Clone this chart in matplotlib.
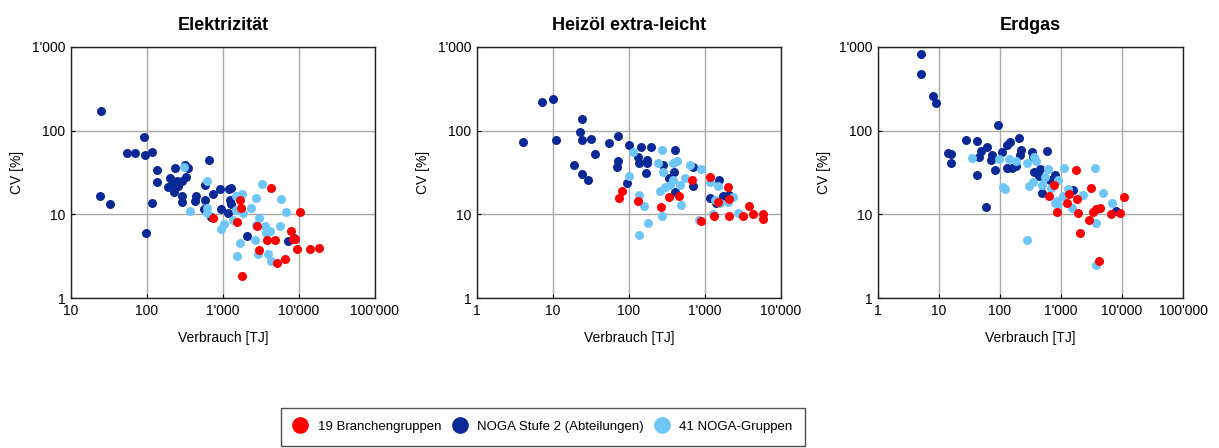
import numpy as np
import matplotlib.pyplot as plt
from matplotlib.ticker import FixedLocator, FuncFormatter, NullLocator

plt.rcParams['font.family'] = ['Liberation Sans', 'DejaVu Sans']

# --- data: (Verbrauch [TJ], CV [%]) per panel and series ---

# Elektrizitaet
el_dark_x = [24.8, 24, 32.9, 54.5, 69, 92, 94, 116, 98, 117, 134, 137, 233, 200, 192, 215, 245, 260, 228,
             285, 290, 321, 350, 325, 292, 225, 436, 432, 577, 560, 580, 652, 750, 908, 930, 1205, 1270,
             1230, 1170, 1290, 2100, 7190, 8600, 706]
el_dark_y = [171, 16.4, 13.3, 54, 54, 85, 51, 56, 6, 13.6, 34, 24.5, 35.6, 27, 21.5, 23, 25, 22, 20,
             16.5, 14, 39, 35.6, 28, 25, 18.7, 16.5, 14.3, 14.7, 11.7, 22.5, 44, 17.3, 20, 11.7, 20, 20.5,
             15, 10.4, 13.4, 5.5, 4.8, 5.2, 9.4]
el_light_x = [303, 614, 610, 615, 374, 955, 1025, 1370, 1535, 1500, 1470, 1800, 1850, 1700, 2370, 2755,
              2650, 2750, 2985, 2890, 3300, 3540, 3700, 4200, 3940, 4300, 5580, 5880, 6840]
el_light_y = [36.3, 25, 12, 10.5, 11, 6.7, 7.7, 8.6, 3.2, 16.4, 11.4, 17.3, 10.5, 4.6, 11.8, 15.6,
              4.9, 7.5, 9.1, 3.4, 23, 7.2, 6, 6.3, 3.4, 2.8, 7.2, 15.2, 10.6]
el_red_x = [750, 1535, 1660, 1740, 1800, 2790, 2980, 3770, 4850, 4240, 5150, 6500, 7800, 8300, 8900,
            10240, 9300, 13800, 18400]
el_red_y = [9, 8, 15, 11.8, 1.83, 7.2, 3.7, 4.9, 4.9, 20.6, 2.6, 2.9, 6.3, 5.1, 5.1, 10.6, 3.8, 3.8, 4.0]

# Heizoel extra-leicht
ho_dark_x = [4.0, 7.1, 10.1, 11, 18.9, 24.3, 22.8, 24.3, 24, 29, 32, 36, 54.5, 72.4, 70.6, 70, 93, 101,
             142, 132, 136, 193, 171, 175, 166, 283, 403, 392, 340, 403, 702, 702, 1545, 1165, 1750,
             2100, 1400]
ho_dark_y = [73, 223, 238, 77, 38.6, 138, 95.5, 77, 30, 25.5, 79, 52, 72, 86, 43, 37, 24, 68,
             64.5, 49, 41, 64.5, 45, 41, 31, 39, 58, 32.5, 27, 18.3, 37, 22, 26, 15.7, 16.7,
             17, 13.7]
ho_light_x = [114, 99, 134, 156, 134, 180, 269, 243, 283, 255, 298, 269, 350, 380, 432, 374, 465, 545,
              480, 635, 877, 840, 1165, 1497, 1350, 1580, 1290, 2030, 2300, 2750]
ho_light_y = [56, 29, 17.1, 12.6, 5.7, 7.9, 58, 41, 32.5, 18.8, 21.5, 9.5, 22.4, 41, 43.5, 25.6, 22.4, 27,
              13, 38.4, 35, 8.5, 24.6, 21.6, 15, 13.7, 10, 14.2, 16.3, 10.4]
ho_red_x = [80, 74, 130, 264, 335, 459, 668, 885, 1165, 1312, 1497, 1987, 2090, 2090, 3130, 3800, 4230,
            5860, 5860]
ho_red_y = [19.1, 15.7, 14.3, 12.2, 16.3, 16.5, 25.9, 8.3, 28, 9.6, 14.0, 21.3, 15.3, 9.6, 9.5, 12.6, 10.2,
            10.2, 8.9]

# Erdgas
eg_dark_x = [5.0, 5.0, 8.0, 9.0, 13.8, 16, 16, 27.6, 42, 48, 45.6, 41.7, 60, 71, 75, 83.6, 58, 91, 106,
             128, 145, 131, 155, 180, 207, 217, 212, 330, 583, 343, 453, 435, 494, 660, 800, 1560, 8030,
             360]
eg_dark_y = [833, 473, 261, 213, 54, 52.5, 41, 77, 75, 56.5, 49, 29.6, 64, 45, 51, 33.5, 12.2, 115.6, 56,
             68, 74, 35.6, 35.6, 38, 82, 59, 51, 56, 57, 49, 34.6, 29, 18, 25.9, 29.6, 19.7, 10.9,
             32]
eg_light_x = [35, 97, 113, 121, 142, 186, 273, 301, 352, 360, 390, 482, 547, 620, 678, 906, 850, 906,
              1123, 1090, 1324, 1500, 2276, 3630, 3800, 3760, 4790, 6820, 281, 800]
eg_light_y = [47, 46, 21.5, 20, 46, 43.5, 41, 22, 24.6, 49, 43.5, 22.4, 28, 34.6, 20.5, 25.9, 14.4, 13.2,
              35.6, 16.4, 20, 12, 17, 35.6, 7.9, 2.5, 18, 13.7, 4.9, 13.7]
eg_red_x = [630, 770, 850, 1240, 1350, 1746, 1813, 1880, 2050, 2890, 3080, 3320, 3760, 4360, 4150, 6700,
            9120, 10600]
eg_red_y = [16.4, 22.4, 10.8, 13.7, 17.3, 33.5, 15.3, 10.3, 6.0, 8.5, 20.8, 10.8, 11.7, 12, 2.75, 10.2,
            10.5, 16.3]

titles = ['Elektrizität', 'Heizöl extra-leicht', 'Erdgas']
series_labels = ['19 Branchengruppen', 'NOGA Stufe 2 (Abteilungen)', '41 NOGA-Gruppen']
red = '#ff0000'
dark = '#0a2896'
light = '#6ec6f7'

panels = [
    (el_dark_x, el_dark_y, el_light_x, el_light_y, el_red_x, el_red_y, (10, 100000)),
    (ho_dark_x, ho_dark_y, ho_light_x, ho_light_y, ho_red_x, ho_red_y, (1, 10000)),
    (eg_dark_x, eg_dark_y, eg_light_x, eg_light_y, eg_red_x, eg_red_y, (1, 100000)),
]
lefts = [0.0582, 0.3913, 0.7203]
widths = [0.2494, 0.2494, 0.2502]


def fmt(v, pos):
    return f"{int(round(v)):,}".replace(',', "'")


fig = plt.figure(figsize=(12.19, 4.48), dpi=100)

for i, (dx, dy, lx, ly, rx, ry, xlim) in enumerate(panels):
    ax = fig.add_axes([lefts[i], 0.3348, widths[i], 0.5603])
    ax.set_xscale('log')
    ax.set_yscale('log')
    ax.scatter(dx, dy, s=42, color=dark, linewidths=0, zorder=3)
    ax.scatter(lx, ly, s=42, color=light, linewidths=0, zorder=4)
    ax.scatter(rx, ry, s=42, color=red, linewidths=0, zorder=5)
    ax.set_xlim(*xlim)
    ax.set_ylim(1, 1000)
    xt = [10 ** k for k in range(int(np.log10(xlim[0])), int(np.log10(xlim[1])) + 1)]
    ax.xaxis.set_major_locator(FixedLocator(xt))
    ax.yaxis.set_major_locator(FixedLocator([1, 10, 100, 1000]))
    ax.xaxis.set_minor_locator(NullLocator())
    ax.yaxis.set_minor_locator(NullLocator())
    ax.xaxis.set_major_formatter(FuncFormatter(fmt))
    ax.yaxis.set_major_formatter(FuncFormatter(fmt))
    ax.tick_params(direction='in', length=3, width=0.8, labelsize=10, pad=4)
    ax.grid(True, color='#a8a8a8', linewidth=1)
    ax.set_axisbelow(True)
    for sp in ax.spines.values():
        sp.set_linewidth(1)
        sp.set_color('#222222')
    ax.set_title(titles[i], fontsize=13, fontweight='bold', pad=12)
    ax.set_xlabel('Verbrauch [TJ]', fontsize=10, labelpad=10)
    ax.set_ylabel('CV [%]', fontsize=10, labelpad=6)

handles = [plt.Line2D([], [], marker='o', linestyle='', markersize=11, color=c)
           for c in (red, dark, light)]
leg = fig.legend(handles, series_labels, loc='center', bbox_to_anchor=(0.4455, 0.047), ncol=3,
                 fontsize=9.5, frameon=True, fancybox=False, edgecolor='#222222',
                 handletextpad=0.8, columnspacing=0.9, borderpad=0.95, handlelength=1.0,
                 borderaxespad=0)
leg.get_frame().set_linewidth(1)

fig.savefig('out.png', dpi=100)
